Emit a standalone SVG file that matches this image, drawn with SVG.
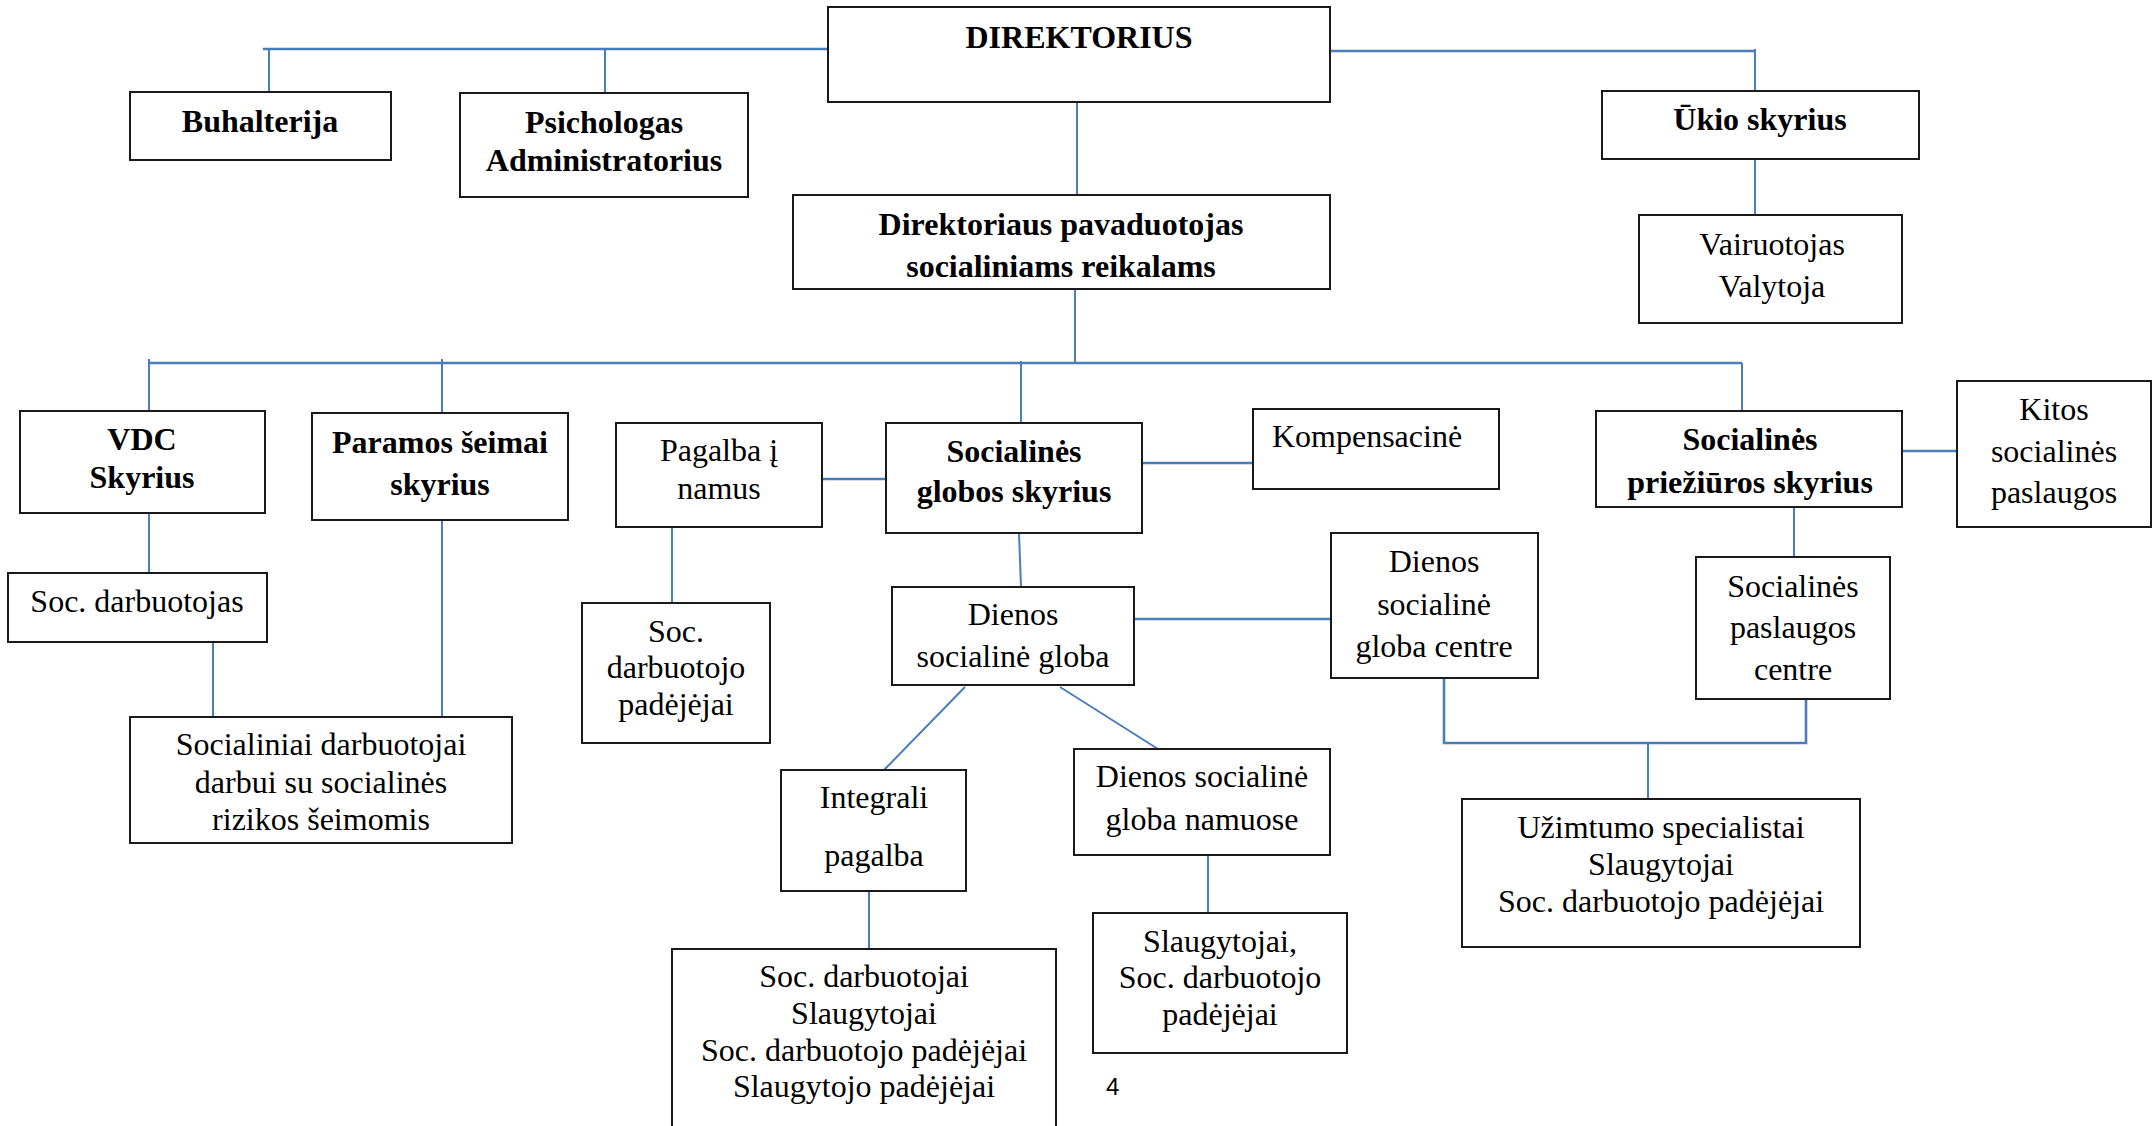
<svg xmlns="http://www.w3.org/2000/svg" width="2156" height="1126" viewBox="0 0 2156 1126">
<style>
.box{fill:#fff;stroke:#1a1a1a;stroke-width:2}
.t{font-family:"Liberation Serif","Times New Roman",serif;font-size:32px;fill:#000;text-anchor:middle}
.b{font-weight:bold}
.ln{stroke:#4a7ebb;stroke-width:2;fill:none}
.lt{stroke:#4a7ebb;stroke-width:2.6;fill:none}
.pg{font-family:"Liberation Sans",Arial,sans-serif;font-size:24px;fill:#000}
</style>
<rect width="2156" height="1126" fill="#fff"/>
<g id="connectors">
<path class="lt" d="M263 49H828"/>
<path class="ln" d="M269 49V92M605 49V93"/>
<path class="lt" d="M1330 51H1755"/>
<path class="ln" d="M1755 49V91M1755 159V215"/>
<path class="ln" d="M1077 102V195M1075 289V363"/>
<path class="lt" d="M149 363H1742"/>
<path class="ln" d="M149 359V411M442 359V413M1021 361V423M1742 363V411"/>
<path class="ln" d="M149 513V573M213 642V717M442 520V717M672 527V603"/>
<path class="lt" d="M822 479H886M1142 463H1253M1902 451H1957"/>
<path class="ln" d="M1019 533L1021 587"/>
<path class="lt" d="M1134 619H1331"/>
<path class="ln" d="M965 687L884 770M1060 687L1158 749"/>
<path class="ln" d="M869 891V949M1208 855V913"/>
<path class="ln" d="M1794 507V557"/>
<path class="lt" d="M1444 678V743H1806V699"/>
<path class="ln" d="M1648 743V799"/>
</g>
<g id="direktorius"><rect class="box" x="828" y="7" width="502" height="95"/><text class="t b" x="1079" y="48">DIREKTORIUS</text></g>
<g id="buhalterija"><rect class="box" x="130" y="92" width="261" height="68"/><text class="t b" x="260" y="132">Buhalterija</text></g>
<g id="psichologas"><rect class="box" x="460" y="93" width="288" height="104"/><text class="t b" x="604" y="133">Psichologas<tspan x="604" y="171">Administratorius</tspan></text></g>
<g id="ukio"><rect class="box" x="1602" y="91" width="317" height="68"/><text class="t b" x="1760" y="130">Ūkio skyrius</text></g>
<g id="vairuotojas"><rect class="box" x="1639" y="215" width="263" height="108"/><text class="t" x="1772" y="255">Vairuotojas<tspan x="1772" y="297">Valytoja</tspan></text></g>
<g id="pavaduotojas"><rect class="box" x="793" y="195" width="537" height="94"/><text class="t b" x="1061" y="235">Direktoriaus pavaduotojas<tspan x="1061" y="277">socialiniams reikalams</tspan></text></g>
<g id="vdc"><rect class="box" x="20" y="411" width="245" height="102"/><text class="t b" x="142" y="450">VDC<tspan x="142" y="488">Skyrius</tspan></text></g>
<g id="paramos"><rect class="box" x="312" y="413" width="256" height="107"/><text class="t b" x="440" y="453">Paramos šeimai<tspan x="440" y="495">skyrius</tspan></text></g>
<g id="pagalba"><rect class="box" x="616" y="423" width="206" height="104"/><text class="t" x="719" y="461">Pagalba į<tspan x="719" y="499">namus</tspan></text></g>
<g id="globos"><rect class="box" x="886" y="423" width="256" height="110"/><text class="t b" x="1014" y="462">Socialinės<tspan x="1014" y="502">globos skyrius</tspan></text></g>
<g id="kompensacine"><rect class="box" x="1253" y="409" width="246" height="80"/><text class="t" x="1367" y="447">Kompensacinė</text></g>
<g id="prieziuros"><rect class="box" x="1596" y="411" width="306" height="96"/><text class="t b" x="1750" y="450">Socialinės<tspan x="1750" y="493">priežiūros skyrius</tspan></text></g>
<g id="kitos"><rect class="box" x="1957" y="381" width="194" height="146"/><text class="t" x="2054" y="420">Kitos<tspan x="2054" y="462">socialinės</tspan><tspan x="2054" y="503">paslaugos</tspan></text></g>
<g id="soc-darbuotojas"><rect class="box" x="8" y="573" width="259" height="69"/><text class="t" x="137" y="612">Soc. darbuotojas</text></g>
<g id="socialiniai"><rect class="box" x="130" y="717" width="382" height="126"/><text class="t" x="321" y="755">Socialiniai darbuotojai<tspan x="321" y="793">darbui su socialinės</tspan><tspan x="321" y="830">rizikos šeimomis</tspan></text></g>
<g id="soc-padejejai"><rect class="box" x="582" y="603" width="188" height="140"/><text class="t" x="676" y="642">Soc.<tspan x="676" y="678">darbuotojo</tspan><tspan x="676" y="715">padėjėjai</tspan></text></g>
<g id="dienos-globa"><rect class="box" x="892" y="587" width="242" height="98"/><text class="t" x="1013" y="625">Dienos<tspan x="1013" y="667">socialinė globa</tspan></text></g>
<g id="dienos-centre"><rect class="box" x="1331" y="533" width="207" height="145"/><text class="t" x="1434" y="572">Dienos<tspan x="1434" y="615">socialinė</tspan><tspan x="1434" y="657">globa centre</tspan></text></g>
<g id="paslaugos-centre"><rect class="box" x="1696" y="557" width="194" height="142"/><text class="t" x="1793" y="597">Socialinės<tspan x="1793" y="638">paslaugos</tspan><tspan x="1793" y="680">centre</tspan></text></g>
<g id="integrali"><rect class="box" x="781" y="770" width="185" height="121"/><text class="t" x="874" y="808">Integrali<tspan x="874" y="866">pagalba</tspan></text></g>
<g id="namuose"><rect class="box" x="1074" y="749" width="256" height="106"/><text class="t" x="1202" y="787">Dienos socialinė<tspan x="1202" y="830">globa namuose</tspan></text></g>
<g id="uzimtumo"><rect class="box" x="1462" y="799" width="398" height="148"/><text class="t" x="1661" y="838">Užimtumo specialistai<tspan x="1661" y="875">Slaugytojai</tspan><tspan x="1661" y="912">Soc. darbuotojo padėjėjai</tspan></text></g>
<g id="soc-darbuotojai"><rect class="box" x="672" y="949" width="384" height="200"/><text class="t" x="864" y="987">Soc. darbuotojai<tspan x="864" y="1024">Slaugytojai</tspan><tspan x="864" y="1061">Soc. darbuotojo padėjėjai</tspan><tspan x="864" y="1097">Slaugytojo padėjėjai</tspan></text></g>
<g id="slaugytojai"><rect class="box" x="1093" y="913" width="254" height="140"/><text class="t" x="1220" y="952">Slaugytojai,<tspan x="1220" y="988">Soc. darbuotojo</tspan><tspan x="1220" y="1025">padėjėjai</tspan></text></g>
<text class="pg" x="1106" y="1095">4</text>
</svg>
